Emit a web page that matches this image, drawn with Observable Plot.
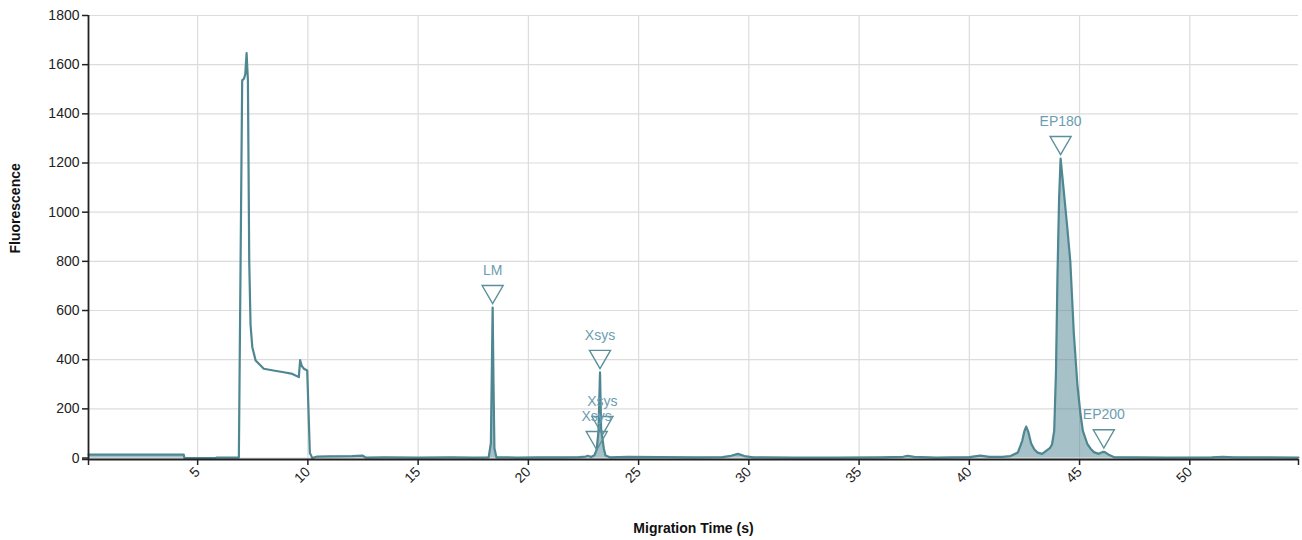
<!DOCTYPE html>
<html>
<head>
<meta charset="utf-8">
<script src="https://cdn.jsdelivr.net/npm/d3@7"></script>
<script src="https://cdn.jsdelivr.net/npm/@observablehq/plot@0.6"></script>
<style>
  html, body { margin: 0; padding: 0; background: #fff; }
  #chart { width: 1302px; height: 540px; }
</style>
</head>
<body>
<div id="chart"></div>
<script>
// ---- data ----
const time = [0.05, 4.37, 4.40, 5.82, 5.85, 6.87, 7.02, 7.10, 7.16, 7.22, 7.28, 7.34, 7.40, 7.48, 7.63, 8.0, 8.5, 8.91, 9.3, 9.59, 9.65, 9.72, 9.82, 9.97, 10.09, 10.2, 10.42, 11.0, 12.0, 12.47, 12.62, 13.5, 15.0, 16.5, 17.5, 18.2, 18.3, 18.35, 18.38, 18.42, 18.46, 18.55, 19.5, 20.5, 21.5, 22.3, 22.6, 22.7, 22.85, 23.0, 23.1, 23.18, 23.25, 23.3, 23.36, 23.42, 23.5, 23.7, 24.5, 26.0, 27.5, 28.8, 29.2, 29.5, 29.8, 30.2, 32.0, 34.0, 36.0, 37.0, 37.2, 37.5, 38.5, 40.0, 40.5, 40.9, 41.5, 41.87, 42.2, 42.4, 42.5, 42.58, 42.68, 42.8, 42.95, 43.1, 43.3, 43.5, 43.65, 43.75, 43.85, 43.93, 44.0, 44.07, 44.14, 44.28, 44.44, 44.58, 44.74, 44.9, 45.04, 45.15, 45.35, 45.5, 45.65, 45.87, 46.05, 46.15, 46.35, 46.55, 47.5, 49.0, 51.0, 51.5, 52.0, 54.93];
const fluorescence = [14, 14, 0, 0, 2, 2, 1536, 1543, 1560, 1647, 1536, 800, 540, 451, 397, 363, 355, 349, 342, 329, 398, 375, 363, 356, 20, 0, 6, 7, 8, 10, 2, 3, 2, 3, 2, 3, 60, 400, 612, 300, 40, 3, 2, 3, 3, 4, 6, 9, 4, 12, 35, 110, 348, 120, 80, 40, 10, 3, 5, 4, 3, 4, 9, 17, 8, 3, 2, 2, 3, 5, 9, 5, 2, 4, 10, 5, 5, 8, 22, 70, 110, 128, 105, 60, 35, 22, 17, 30, 40, 55, 110, 350, 750, 1050, 1218, 1090, 940, 800, 506, 300, 180, 110, 58, 38, 24, 17, 25, 24, 12, 4, 3, 2, 3, 5, 3, 2];

const peakLabels = ["LM", "Xsys", "Xsys", "Xsys", "EP180", "EP200"];
const peakTimes = [18.38, 23.25, 23.36, 23.1, 44.14, 46.1];
const peakHeights = [612, 348, 79, 18, 1218, 25];

const xDomain = [0.05, 54.93];
const yDomain = [-6, 1800];
const xTicks = [5, 10, 15, 20, 25, 30, 35, 40, 45, 50];
const yTicks = [0, 200, 400, 600, 800, 1000, 1200, 1400, 1600, 1800];
// unfilled region (the large front peak is drawn as line only)
const unfilled = [5.0, 10.15];

// ---- build ----
const trace = time.map((t, i) => ({t, f: fluorescence[i]}));
const peaks = peakLabels.map((label, i) => ({label, t: peakTimes[i], f: peakHeights[i]}));

const lineColor = "#4e8691";
const font = "'Liberation Sans', Arial, sans-serif";

const chart = Plot.plot({
  width: 1302,
  height: 540,
  marginLeft: 88,
  marginRight: 4,
  marginTop: 15,
  marginBottom: 81,
  style: {fontFamily: font, fontSize: "14px", color: "#222", background: "#fff", overflow: "visible"},
  x: {domain: xDomain},
  y: {domain: yDomain},
  marks: [
    Plot.gridX(xTicks, {stroke: "#dcdcdc", strokeOpacity: 1, strokeWidth: 1.2}),
    Plot.gridY(yTicks, {stroke: "#dcdcdc", strokeOpacity: 1, strokeWidth: 1.2}),
    Plot.areaY(trace, {
      x: "t",
      y: d => (d.t > unfilled[0] && d.t < unfilled[1]) ? NaN : d.f,
      fill: lineColor, fillOpacity: 0.5
    }),
    Plot.lineY(trace, {x: "t", y: "f", stroke: lineColor, strokeWidth: 2.2, strokeLinejoin: "round"}),
    Plot.dot(peaks, {x: "t", y: "f", symbol: "triangle", r: 7.8, rotate: 180, dy: -16,
      stroke: "#5c8f9b", strokeWidth: 1.4, fill: "none"}),
    Plot.text(peaks, {x: "t", y: "f", text: "label", dy: -37, fill: "#6b9db0", fontSize: 14}),
    Plot.axisX({
      ticks: [xDomain[0], ...xTicks, xDomain[1]],
      tickFormat: d => xTicks.includes(d) ? String(d) : "",
      tickRotate: -45, tickSize: 6, tickPadding: 4, label: null,
      stroke: "#222", strokeWidth: 1.5, fill: "#222", fontSize: 14
    }),
    Plot.axisY({
      ticks: [yDomain[0], ...yTicks],
      tickFormat: d => yTicks.includes(d) ? String(d) : "",
      tickSize: 6, tickPadding: 3, label: null,
      stroke: "#222", strokeWidth: 1.5, fill: "#222", fontSize: 14
    }),
    Plot.ruleY([yDomain[0]], {stroke: "#222", strokeWidth: 1.8}),
    Plot.ruleX([xDomain[0]], {stroke: "#222", strokeWidth: 1.8}),
    Plot.text(["Migration Time (s)"], {frameAnchor: "bottom", lineAnchor: "middle", dy: 69,
      fontWeight: "bold", fontSize: 14, fill: "#111"}),
    Plot.text(["Fluorescence"], {frameAnchor: "left", lineAnchor: "middle", rotate: -90, dx: -73, dy: 16,
      fontWeight: "bold", fontSize: 14, fill: "#111"})
  ]
});
document.getElementById("chart").appendChild(chart);
</script>
</body>
</html>
